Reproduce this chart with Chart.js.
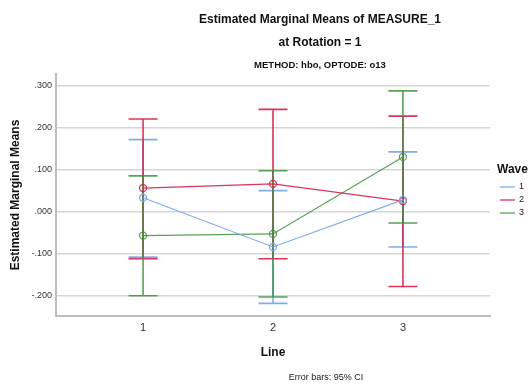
<!DOCTYPE html>
<html>
<head>
<meta charset="utf-8">
<script src="https://cdn.jsdelivr.net/npm/chart.js@4/dist/chart.umd.min.js"></script>
<style>
  html, body { margin: 0; padding: 0; background: #fff; }
  #wrap { width: 532px; height: 387px; position: relative; }
</style>
</head>
<body>
<div id="wrap"><canvas id="emmChart" width="532" height="387"></canvas></div>
<script>
// categories (Line) and legend entries (Wave)
const lineLevels = [1, 2, 3];
const waveLabels = ["1", "2", "3"];
const yTickValues = [-0.2, -0.1, 0, 0.1, 0.2, 0.3];

// estimated marginal means and 95% CI per wave
const wave1Mean = [0.033, -0.084, 0.028];
const wave1Lower = [-0.108, -0.218, -0.084];
const wave1Upper = [0.171, 0.050, 0.142];

const wave2Mean = [0.056, 0.066, 0.025];
const wave2Lower = [-0.112, -0.112, -0.178];
const wave2Upper = [0.220, 0.243, 0.227];

const wave3Mean = [-0.057, -0.053, 0.130];
const wave3Lower = [-0.200, -0.203, -0.027];
const wave3Upper = [0.085, 0.097, 0.287];

const waveColors = ["rgba(120,170,232,0.95)", "rgba(214,30,72,0.9)", "rgba(60,145,60,0.85)"];

function fmtTick(v) {
    const s = Math.abs(v).toFixed(3).replace(/^0/, "");
    return (v < -1e-9 ? "-" : "") + s;
}

function makeSet(i, means, lower, upper) {
    return {
        label: waveLabels[i],
        data: lineLevels.map((x, k) => ({ x: x, y: means[k] })),
        lower: lower,
        upper: upper,
        borderColor: waveColors[i],
        backgroundColor: "rgba(0,0,0,0)",
        pointBorderColor: waveColors[i],
        pointBackgroundColor: "rgba(255,255,255,0)",
        pointRadius: 3.5,
        pointBorderWidth: 1.3,
        borderWidth: 1.2,
        tension: 0
    };
}

// vertical CI bars with caps, drawn through the chart scales
const errorBars = {
    id: "errorBars",
    beforeDatasetsDraw(chart) {
        const ctx = chart.ctx;
        const xs = chart.scales.x, ys = chart.scales.y;
        chart.data.datasets.forEach(ds => {
            ctx.save();
            ctx.strokeStyle = ds.borderColor;
            ctx.lineWidth = 1.6;
            ds.data.forEach((p, k) => {
                const px = xs.getPixelForValue(p.x);
                const lo = ys.getPixelForValue(ds.lower[k]);
                const hi = ys.getPixelForValue(ds.upper[k]);
                ctx.beginPath();
                ctx.moveTo(px, lo); ctx.lineTo(px, hi);
                ctx.moveTo(px - 14.5, lo); ctx.lineTo(px + 14.5, lo);
                ctx.moveTo(px - 14.5, hi); ctx.lineTo(px + 14.5, hi);
                ctx.stroke();
            });
            ctx.restore();
        });
    }
};

// titles, axis titles, footnote and legend in SPSS style
const textLayer = {
    id: "textLayer",
    afterDraw(chart) {
        const ctx = chart.ctx;
        const area = chart.chartArea;
        ctx.save();
        ctx.fillStyle = "#111";
        ctx.textAlign = "center";
        ctx.textBaseline = "middle";
        ctx.font = "bold 12px 'Liberation Sans', Arial, sans-serif";
        ctx.fillText("Estimated Marginal Means of MEASURE_1", 320, 20);
        ctx.fillText("at Rotation = 1", 320, 43);
        ctx.font = "bold 9.5px 'Liberation Sans', Arial, sans-serif";
        ctx.fillText("METHOD: hbo, OPTODE: o13", 320, 65);

        ctx.font = "bold 12px 'Liberation Sans', Arial, sans-serif";
        ctx.fillText("Line", (area.left + area.right) / 2, 353);
        ctx.font = "9px 'Liberation Sans', Arial, sans-serif";
        ctx.fillStyle = "#222";
        ctx.fillText("Error bars: 95% CI", 326, 378);

        ctx.save();
        ctx.translate(16, (area.top + area.bottom) / 2);
        ctx.rotate(-Math.PI / 2);
        ctx.fillStyle = "#111";
        ctx.font = "bold 12px 'Liberation Sans', Arial, sans-serif";
        ctx.fillText("Estimated Marginal Means", 0, 0);
        ctx.restore();

        ctx.textAlign = "left";
        ctx.fillStyle = "#111";
        ctx.font = "bold 12px 'Liberation Sans', Arial, sans-serif";
        ctx.fillText("Wave", 497, 170);
        ctx.font = "9px 'Liberation Sans', Arial, sans-serif";
        chart.data.datasets.forEach((ds, i) => {
            const y = 187 + i * 13;
            ctx.strokeStyle = ds.borderColor;
            ctx.lineWidth = 1.3;
            ctx.beginPath();
            ctx.moveTo(500, y); ctx.lineTo(515, y);
            ctx.stroke();
            ctx.fillStyle = "#222";
            ctx.fillText(ds.label, 519, y);
        });
        ctx.restore();
    }
};

const canvas = document.getElementById("emmChart");
new Chart(canvas.getContext("2d"), {
    type: "line",
    data: {
        datasets: [
            makeSet(0, wave1Mean, wave1Lower, wave1Upper),
            makeSet(1, wave2Mean, wave2Lower, wave2Upper),
            makeSet(2, wave3Mean, wave3Lower, wave3Upper)
        ]
    },
    options: {
        responsive: false,
        animation: false,
        layout: { padding: { left: 0, right: 42, top: 74, bottom: 0 } },
        plugins: {
            legend: { display: false },
            title: { display: false },
            tooltip: { enabled: false }
        },
        scales: {
            x: {
                type: "linear",
                min: 0.33,
                max: 3.67,
                afterBuildTicks: s => { s.ticks = lineLevels.map(v => ({ value: v })); },
                afterFit: s => { s.height = 71; },
                grid: { display: false, drawTicks: false },
                border: { color: "#bdbdbd", width: 2 },
                ticks: {
                    color: "#333",
                    padding: 5,
                    font: { family: "'Liberation Sans', Arial, sans-serif", size: 11 },
                    callback: v => String(v)
                }
            },
            y: {
                min: -0.248,
                max: 0.327,
                afterBuildTicks: s => { s.ticks = yTickValues.map(v => ({ value: v })); },
                afterFit: s => { s.width = 56; },
                grid: { color: "#d6d6d6", lineWidth: 1.5, drawTicks: false },
                border: { color: "#bdbdbd", width: 2 },
                ticks: {
                    color: "#333",
                    padding: 4,
                    font: { family: "'Liberation Sans', Arial, sans-serif", size: 9 },
                    callback: v => fmtTick(v)
                }
            }
        }
    },
    plugins: [errorBars, textLayer]
});
</script>
</body>
</html>
